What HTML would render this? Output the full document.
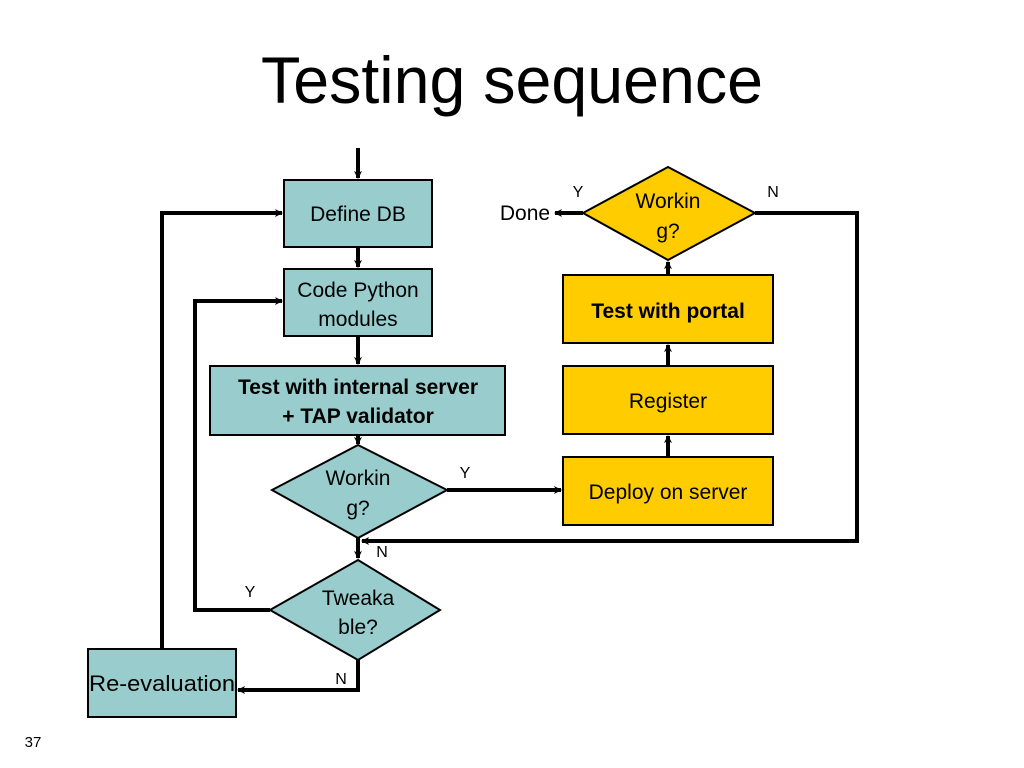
<!DOCTYPE html>
<html><head><meta charset="utf-8"><style>
html,body{margin:0;padding:0;background:#fff;}
svg{display:block;}
text{font-family:"Liberation Sans",Arial,sans-serif;fill:#000;}
</style></head><body>
<svg width="1024" height="768" viewBox="0 0 1024 768" xmlns="http://www.w3.org/2000/svg">
<defs>
<marker id="a" markerWidth="8" markerHeight="8" refX="7" refY="4" orient="auto" markerUnits="userSpaceOnUse">
<path d="M0,0 L8,4 L0,8 L2,4 Z" fill="#000"/>
</marker>
</defs>
<text x="512" y="103" font-size="66" text-anchor="middle" textLength="502" lengthAdjust="spacingAndGlyphs">Testing sequence</text>

<g fill="#99cccc" stroke="#000" stroke-width="2">
<rect x="284" y="180" width="148" height="67"/>
<rect x="284" y="269" width="148" height="67"/>
<rect x="210" y="366" width="295" height="69"/>
<polygon points="358,445 447,490 358,538 272,490"/>
<polygon points="358,560 440,610 358,660 270,610"/>
<rect x="88" y="649" width="148" height="68"/>
</g>
<g fill="#ffcc00" stroke="#000" stroke-width="2">
<polygon points="668,167 755,213 668,260 583,213"/>
<rect x="563" y="275" width="210" height="68"/>
<rect x="563" y="366" width="210" height="68"/>
<rect x="563" y="457" width="210" height="68"/>
</g>

<g stroke="#000" stroke-width="4" fill="none">
<line x1="358" y1="148" x2="358" y2="178" marker-end="url(#a)"/>
<line x1="358" y1="247" x2="358" y2="267" marker-end="url(#a)"/>
<line x1="358" y1="336" x2="358" y2="364" marker-end="url(#a)"/>
<line x1="358" y1="435" x2="358" y2="444" marker-end="url(#a)"/>
<line x1="358" y1="538" x2="358" y2="558" marker-end="url(#a)"/>
<polyline points="162,649 162,213 282,213" marker-end="url(#a)"/>
<polyline points="270,610 195,610 195,301 282,301" marker-end="url(#a)"/>
<polyline points="358,660 358,690 238,690" marker-end="url(#a)"/>
<line x1="447" y1="490" x2="561" y2="490" marker-end="url(#a)"/>
<polyline points="755,213 857,213 857,541 362,541" marker-end="url(#a)"/>
<line x1="668" y1="457" x2="668" y2="436" marker-end="url(#a)"/>
<line x1="668" y1="366" x2="668" y2="345" marker-end="url(#a)"/>
<line x1="668" y1="275" x2="668" y2="262" marker-end="url(#a)"/>
<line x1="583" y1="213" x2="555" y2="213" marker-end="url(#a)"/>
</g>

<g font-size="21" text-anchor="middle">
<text x="358" y="221">Define DB</text>
<text x="358" y="297">Code Python</text>
<text x="358" y="326">modules</text>
<text x="358" y="394" font-weight="bold">Test with internal server</text>
<text x="358" y="423" font-weight="bold">+ TAP validator</text>
<text x="358" y="485">Workin</text>
<text x="358" y="515">g?</text>
<text x="358" y="605">Tweaka</text>
<text x="358" y="634">ble?</text>
<text x="162" y="691" font-size="22" textLength="146" lengthAdjust="spacingAndGlyphs">Re-evaluation</text>
<text x="668" y="208">Workin</text>
<text x="668" y="238">g?</text>
<text x="668" y="318" font-weight="bold">Test with portal</text>
<text x="668" y="408">Register</text>
<text x="668" y="499">Deploy on server</text>
<text x="525" y="220">Done</text>
</g>
<g font-size="16" text-anchor="middle">
<text x="578" y="197">Y</text>
<text x="773" y="197">N</text>
<text x="465" y="478">Y</text>
<text x="382" y="557">N</text>
<text x="250" y="597">Y</text>
<text x="341" y="684">N</text>
<text x="33" y="747" font-size="15">37</text>
</g>
</svg>
</body></html>
